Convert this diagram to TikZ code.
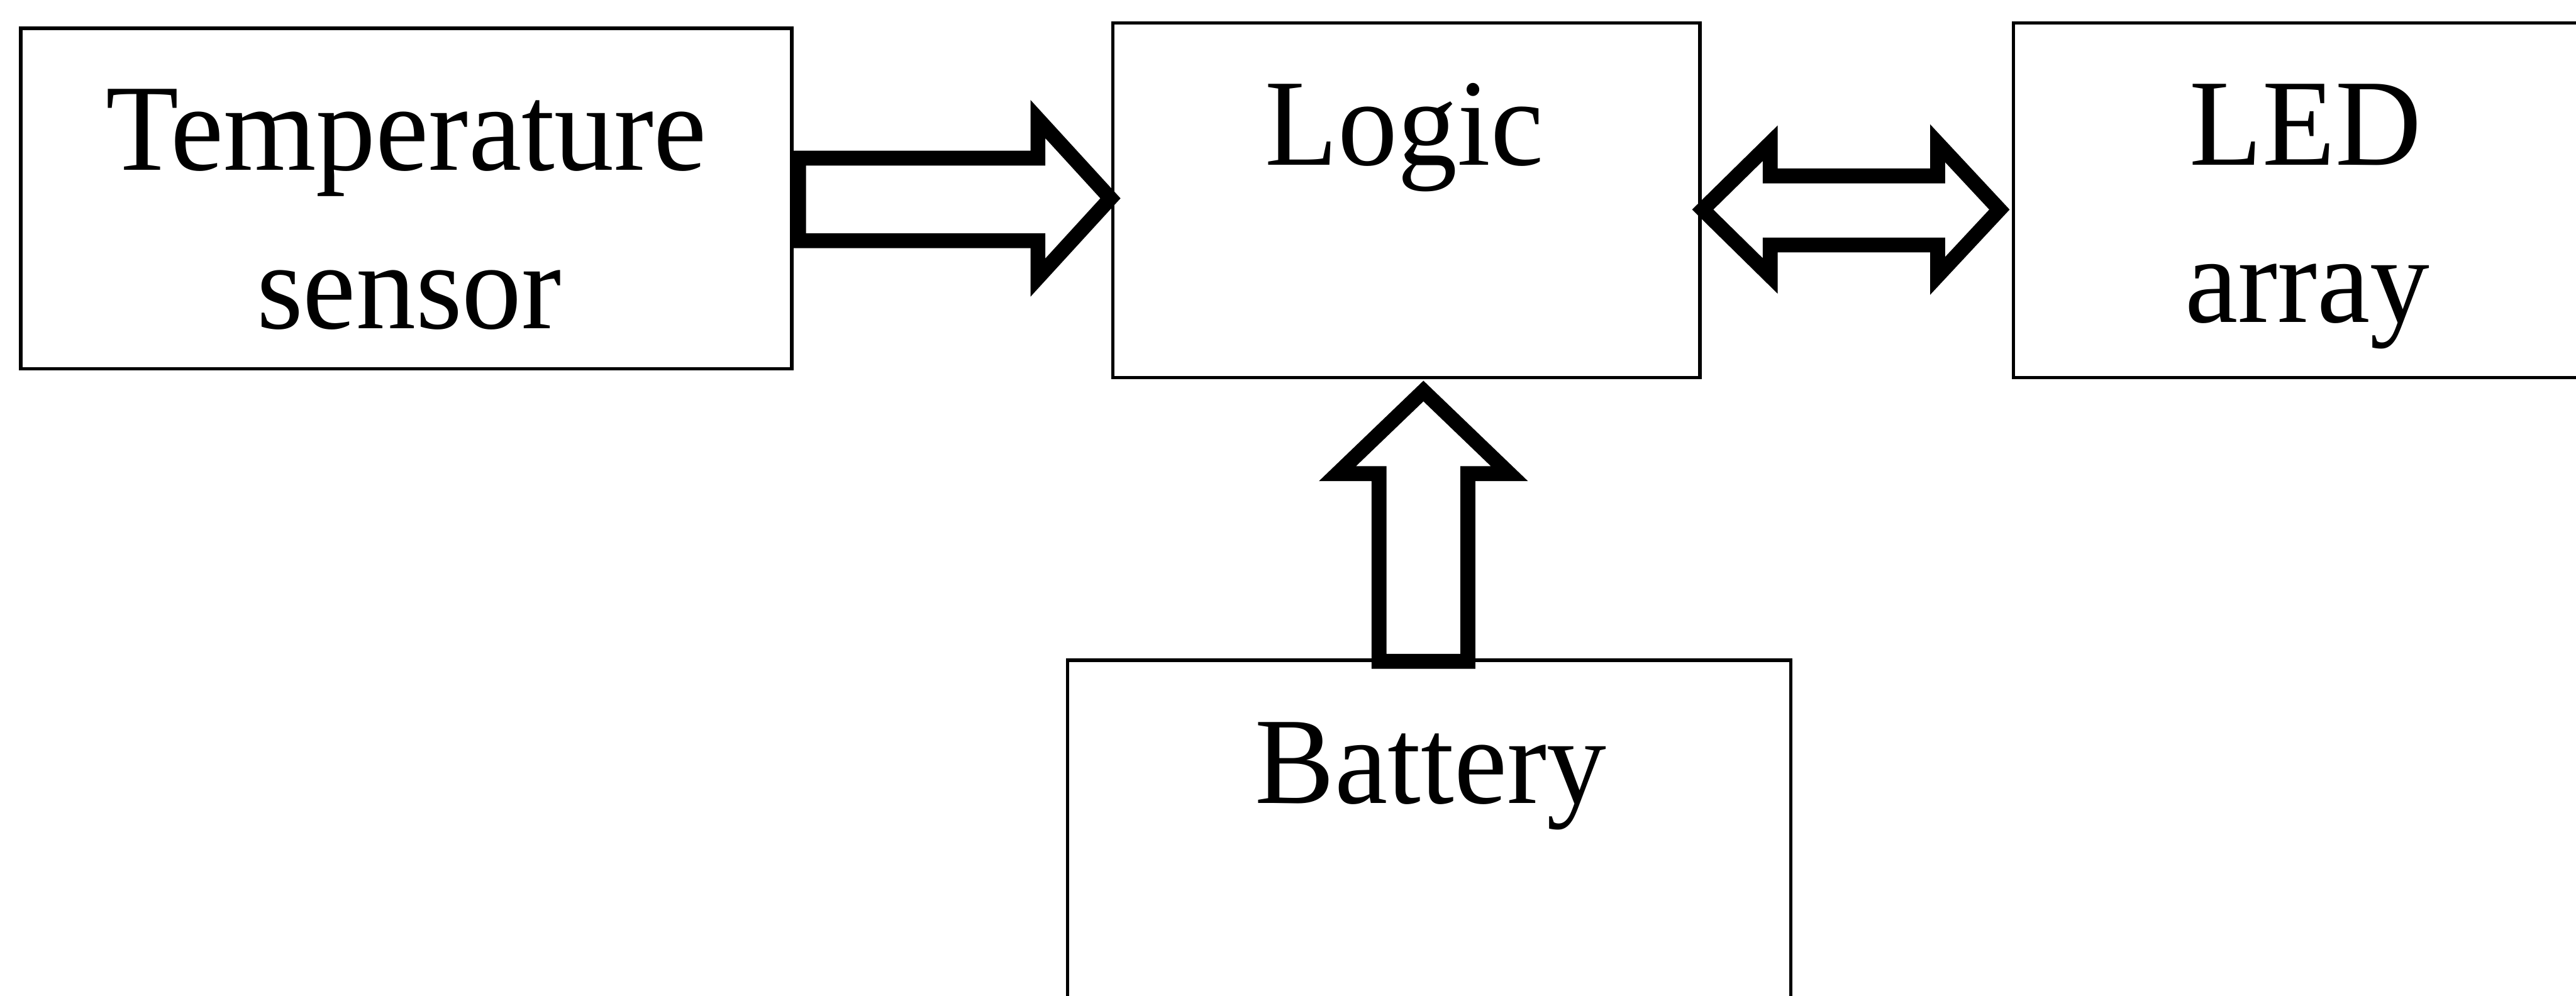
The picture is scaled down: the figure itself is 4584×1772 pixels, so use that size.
\documentclass[tikz,border=0pt]{standalone}
\usepackage{fontspec}
\setmainfont{Liberation Serif}
\begin{document}
\begin{tikzpicture}[x=0.1pt,y=-0.1pt,
  box/.style={draw=black, line width=0.6pt, fill=white, outer sep=0pt, inner sep=0pt},
  blockarrow/.style={draw=black, fill=white, line width=2.65pt, line join=miter, miter limit=10},
  lbl/.style={anchor=base, inner sep=0pt, font=\fontsize{22pt}{26pt}\selectfont}]
\clip (0,0) rectangle (4584,1772);
\fill[white] (0,0) rectangle (4584,1772);
% boxes
\node[box, anchor=north west, minimum width=137.2pt, minimum height=60.6pt] (temp) at (37,50.5) {};
\node[box, anchor=north west, minimum width=104.5pt, minimum height=63.1pt] (logic) at (1980,41) {};
\node[box, anchor=north west, minimum width=110pt, minimum height=63.1pt] (led) at (3583,41) {};
\node[box, anchor=north west, minimum width=128.7pt, minimum height=80pt] (battery) at (1900,1175) {};
% labels
\node[lbl] (ttemp) at (723,303) {\scalebox{0.965}[1]{Temperature}};
\node[lbl] (tsens) at (728,585) {\scalebox{0.965}[1]{sensor}};
\node[lbl] (tlogic) at (2499,294) {\scalebox{0.965}[1]{Logic}};
\node[lbl] (tled) at (4103,294) {\scalebox{0.965}[1]{LED}};
\node[lbl] (tarray) at (4106,574) {\scalebox{0.965}[1]{array}};
\node[lbl] (tbatt) at (2546,1430) {\scalebox{0.965}[1]{Battery}};
% block arrows
\draw[blockarrow] (1421,281.5) -- (1847,281.5) -- (1847,212) -- (1976,353) -- (1847,494) -- (1847,428.5) -- (1421,428.5) -- cycle;
\draw[blockarrow] (3030,373) -- (3150,255) -- (3150,313) -- (3448,313) -- (3448,255) -- (3558,373) -- (3448,491) -- (3448,436) -- (3150,436) -- (3150,491) -- cycle;
\draw[blockarrow] (2533,696) -- (2686,843) -- (2612,843) -- (2612,1177) -- (2454,1177) -- (2454,843) -- (2380,843) -- cycle;
\end{tikzpicture}
\end{document}
